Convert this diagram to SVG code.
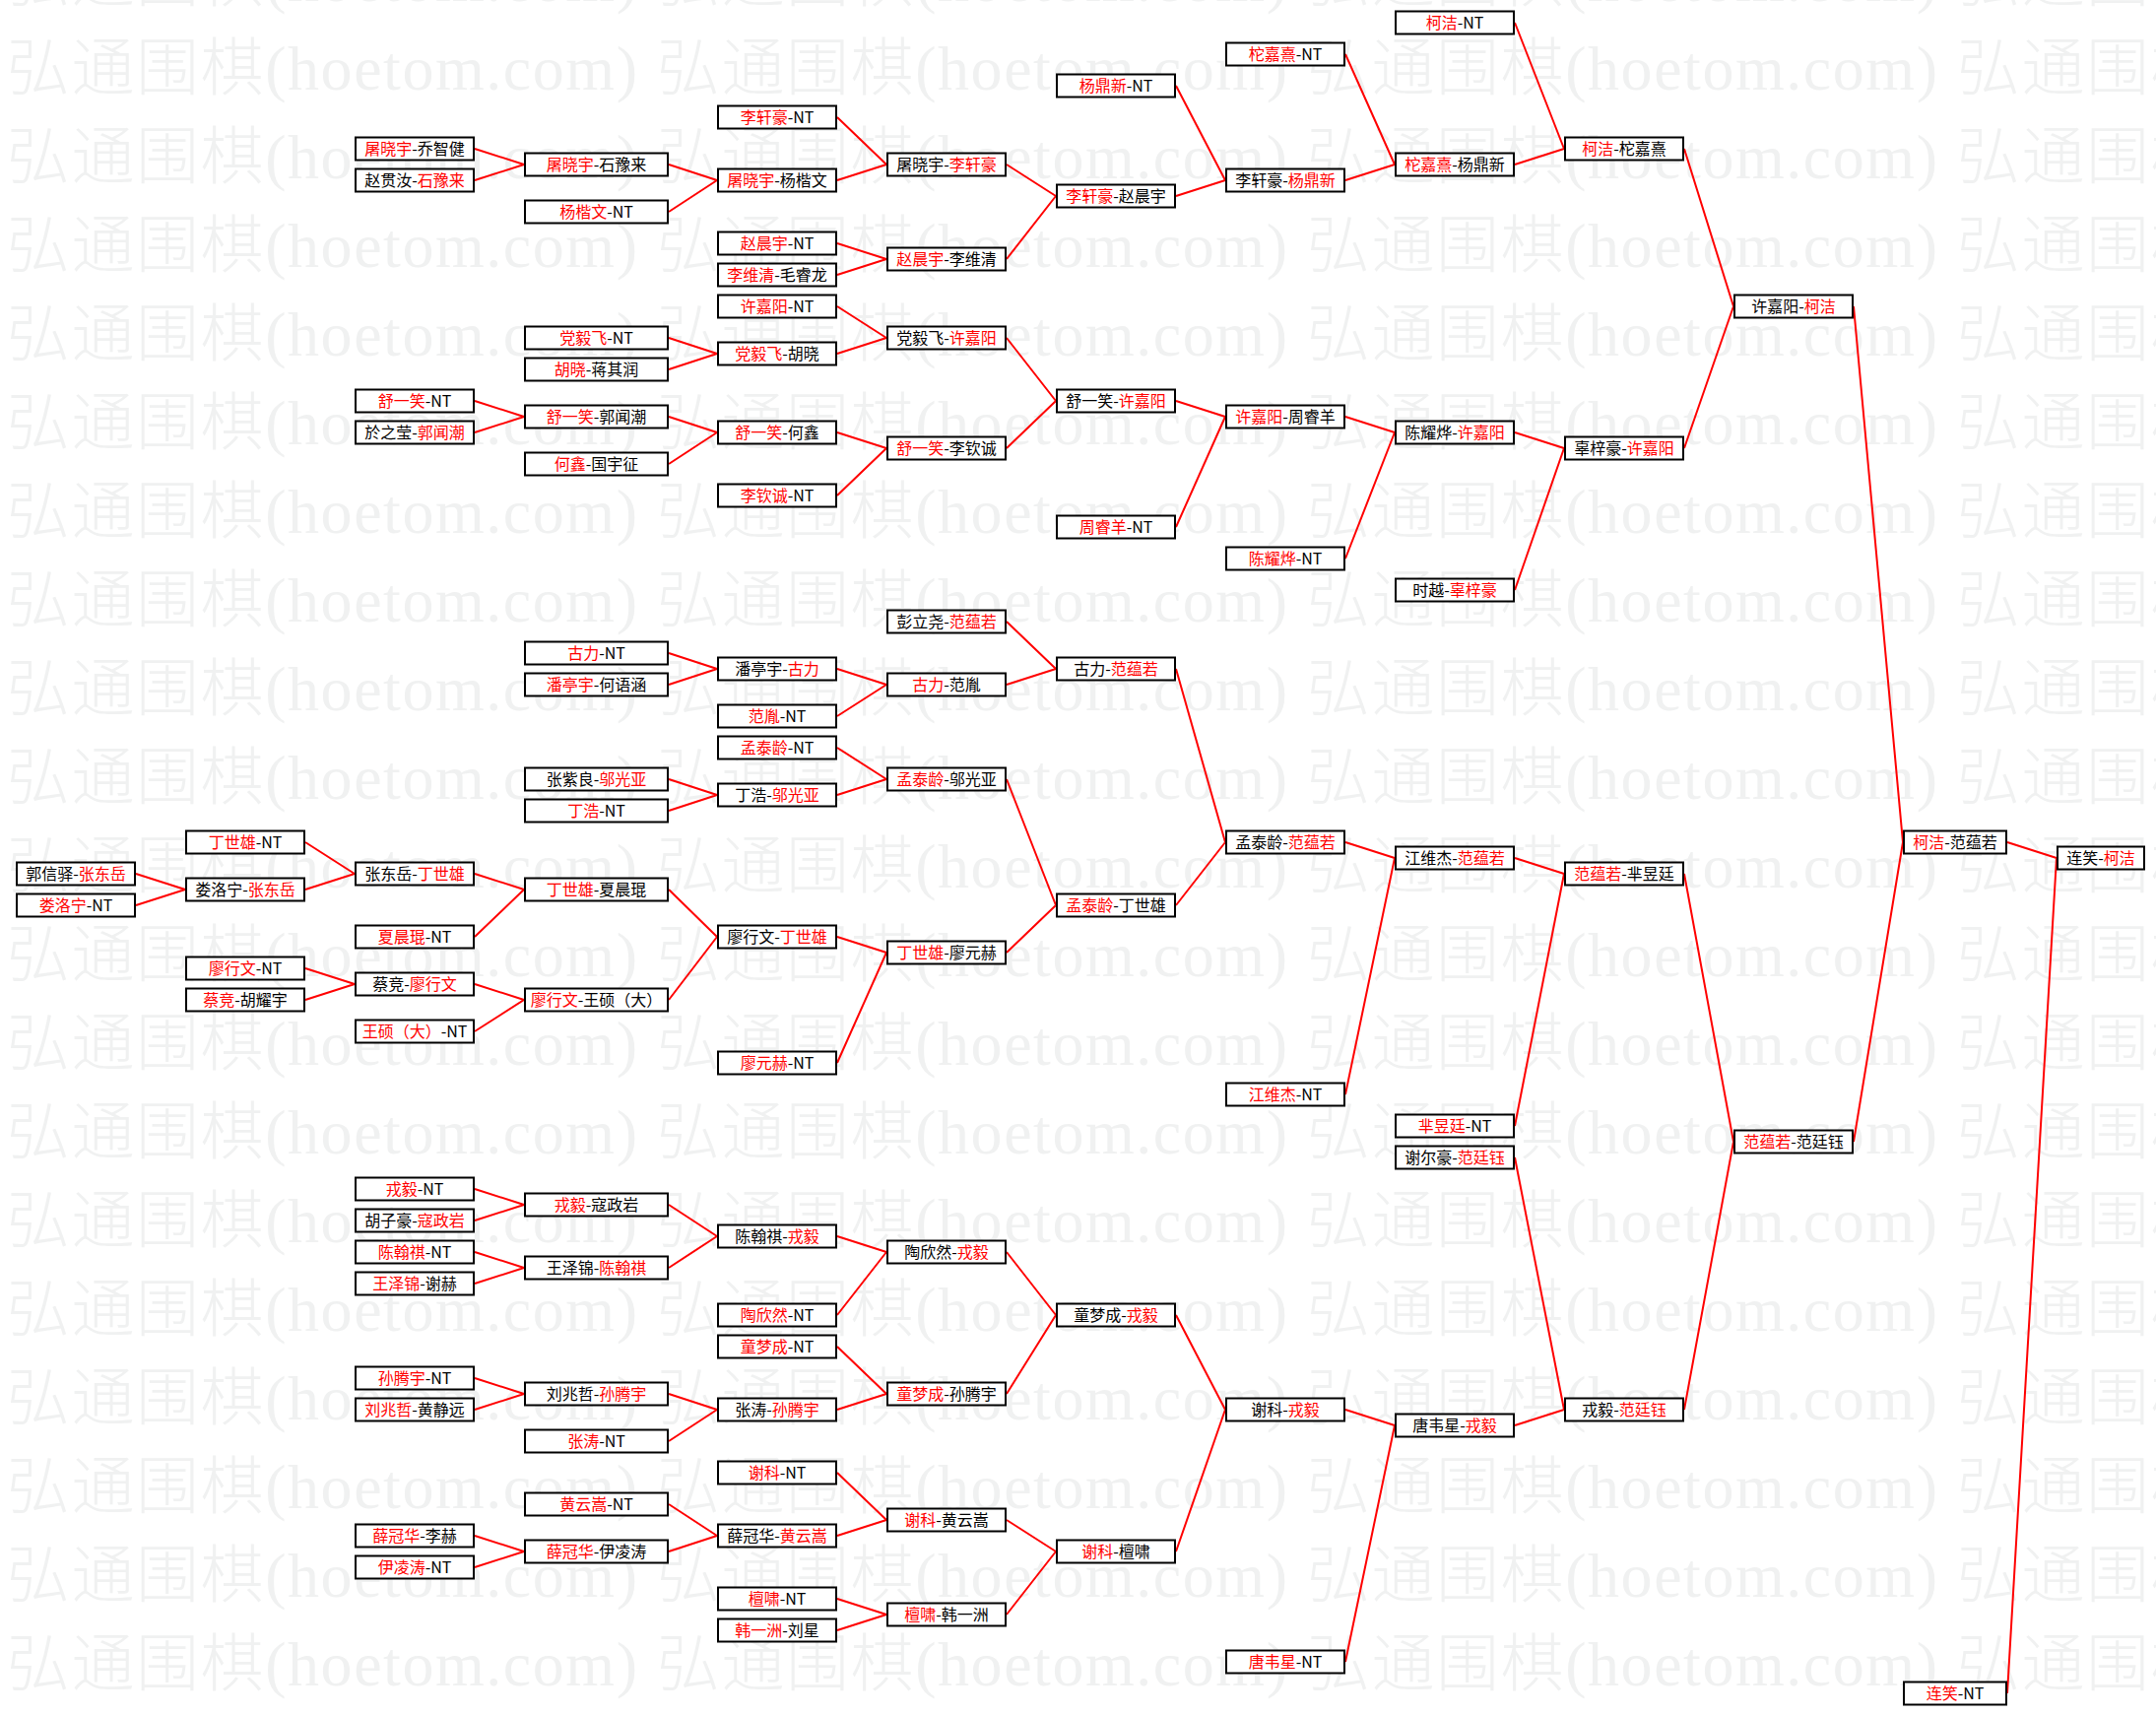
<svg xmlns="http://www.w3.org/2000/svg" width="2189" height="1741" viewBox="0 0 2189 1741">
<style>
.b rect{fill:#fff;stroke:#000;stroke-width:2}
.b text{font-family:"Noto Sans CJK SC","Noto Sans CJK JP",sans-serif;font-size:16px;text-anchor:middle;fill:#000}
.r{fill:#f00}
#connectors path{stroke:#f00;stroke-width:2;fill:none}
.wm{font-family:"Liberation Serif","Noto Sans CJK SC",serif;font-size:64px;font-weight:300;fill:#f0f1f1}
</style>
<defs>
<pattern id="wmp" patternUnits="userSpaceOnUse" x="7" y="20" width="660" height="90">
<text class="wm" x="0" y="71" textLength="640" lengthAdjust="spacing">弘通围棋(hoetom.com)</text>
</pattern>
</defs>
<rect width="2189" height="1741" fill="#fff"/>
<rect id="watermark" width="2189" height="1741" fill="url(#wmp)"/>
<g id="connectors">
<path d="M138 887L188 903M138 919L188 903"/>
<path d="M310 855L360 887M310 903L360 887"/>
<path d="M310 983L360 999M310 1015L360 999"/>
<path d="M482 151L532 167M482 183L532 167"/>
<path d="M482 407L532 423M482 439L532 423"/>
<path d="M482 887L532 903M482 951L532 903"/>
<path d="M482 999L532 1015M482 1047L532 1015"/>
<path d="M482 1207L532 1223M482 1239L532 1223"/>
<path d="M482 1271L532 1287M482 1303L532 1287"/>
<path d="M482 1399L532 1415M482 1431L532 1415"/>
<path d="M482 1559L532 1575M482 1591L532 1575"/>
<path d="M679 167L728 183M679 215L728 183"/>
<path d="M679 343L728 359M679 375L728 359"/>
<path d="M679 423L728 439M679 471L728 439"/>
<path d="M679 663L728 679M679 695L728 679"/>
<path d="M679 791L728 807M679 823L728 807"/>
<path d="M679 903L728 951M679 1015L728 951"/>
<path d="M679 1223L728 1255M679 1287L728 1255"/>
<path d="M679 1415L728 1431M679 1463L728 1431"/>
<path d="M679 1527L728 1559M679 1575L728 1559"/>
<path d="M850 119L900 167M850 183L900 167"/>
<path d="M850 247L900 263M850 279L900 263"/>
<path d="M850 311L900 343M850 359L900 343"/>
<path d="M850 439L900 455M850 503L900 455"/>
<path d="M850 679L900 695M850 727L900 695"/>
<path d="M850 759L900 791M850 807L900 791"/>
<path d="M850 951L900 967M850 1079L900 967"/>
<path d="M850 1255L900 1271M850 1335L900 1271"/>
<path d="M850 1367L900 1415M850 1431L900 1415"/>
<path d="M850 1495L900 1543M850 1559L900 1543"/>
<path d="M850 1623L900 1639M850 1655L900 1639"/>
<path d="M1022 167L1072 199M1022 263L1072 199"/>
<path d="M1022 343L1072 407M1022 455L1072 407"/>
<path d="M1022 631L1072 679M1022 695L1072 679"/>
<path d="M1022 791L1072 919M1022 967L1072 919"/>
<path d="M1022 1271L1072 1335M1022 1415L1072 1335"/>
<path d="M1022 1543L1072 1575M1022 1639L1072 1575"/>
<path d="M1194 87L1244 183M1194 199L1244 183"/>
<path d="M1194 407L1244 423M1194 535L1244 423"/>
<path d="M1194 679L1244 855M1194 919L1244 855"/>
<path d="M1194 1335L1244 1431M1194 1575L1244 1431"/>
<path d="M1366 55L1416 167M1366 183L1416 167"/>
<path d="M1366 423L1416 439M1366 567L1416 439"/>
<path d="M1366 855L1416 871M1366 1111L1416 871"/>
<path d="M1366 1431L1416 1447M1366 1687L1416 1447"/>
<path d="M1538 23L1588 151M1538 167L1588 151"/>
<path d="M1538 439L1588 455M1538 599L1588 455"/>
<path d="M1538 871L1588 887M1538 1143L1588 887"/>
<path d="M1538 1175L1588 1431M1538 1447L1588 1431"/>
<path d="M1710 151L1760 311M1710 455L1760 311"/>
<path d="M1710 887L1760 1159M1710 1431L1760 1159"/>
<path d="M1882 311L1932 855M1882 1159L1932 855"/>
<path d="M2038 855L2088 871M2038 1719L2088 871"/>
</g>
<g id="a1" class="b" transform="translate(16,887)"><rect x="1" y="-11.5" width="120" height="23"/><text x="61" y="5.5">郭信驿-<tspan class="r">张东岳</tspan></text></g>
<g id="a2" class="b" transform="translate(16,919)"><rect x="1" y="-11.5" width="120" height="23"/><text x="61" y="5.5"><tspan class="r">娄洛宁</tspan>-NT</text></g>
<g id="b1" class="b" transform="translate(188,855)"><rect x="1" y="-11.5" width="120" height="23"/><text x="61" y="5.5"><tspan class="r">丁世雄</tspan>-NT</text></g>
<g id="b2" class="b" transform="translate(188,903)"><rect x="1" y="-11.5" width="120" height="23"/><text x="61" y="5.5">娄洛宁-<tspan class="r">张东岳</tspan></text></g>
<g id="b3" class="b" transform="translate(188,983)"><rect x="1" y="-11.5" width="120" height="23"/><text x="61" y="5.5"><tspan class="r">廖行文</tspan>-NT</text></g>
<g id="b4" class="b" transform="translate(188,1015)"><rect x="1" y="-11.5" width="120" height="23"/><text x="61" y="5.5"><tspan class="r">蔡竞</tspan>-胡耀宇</text></g>
<g id="c1" class="b" transform="translate(360,151)"><rect x="1" y="-11.5" width="120" height="23"/><text x="61" y="5.5"><tspan class="r">屠晓宇</tspan>-乔智健</text></g>
<g id="c2" class="b" transform="translate(360,183)"><rect x="1" y="-11.5" width="120" height="23"/><text x="61" y="5.5">赵贯汝-<tspan class="r">石豫来</tspan></text></g>
<g id="c3" class="b" transform="translate(360,407)"><rect x="1" y="-11.5" width="120" height="23"/><text x="61" y="5.5"><tspan class="r">舒一笑</tspan>-NT</text></g>
<g id="c4" class="b" transform="translate(360,439)"><rect x="1" y="-11.5" width="120" height="23"/><text x="61" y="5.5">於之莹-<tspan class="r">郭闻潮</tspan></text></g>
<g id="c5" class="b" transform="translate(360,887)"><rect x="1" y="-11.5" width="120" height="23"/><text x="61" y="5.5">张东岳-<tspan class="r">丁世雄</tspan></text></g>
<g id="c6" class="b" transform="translate(360,951)"><rect x="1" y="-11.5" width="120" height="23"/><text x="61" y="5.5"><tspan class="r">夏晨琨</tspan>-NT</text></g>
<g id="c7" class="b" transform="translate(360,999)"><rect x="1" y="-11.5" width="120" height="23"/><text x="61" y="5.5">蔡竞-<tspan class="r">廖行文</tspan></text></g>
<g id="c8" class="b" transform="translate(360,1047)"><rect x="1" y="-11.5" width="120" height="23"/><text x="61" y="5.5"><tspan class="r">王硕（大）</tspan>-NT</text></g>
<g id="c9" class="b" transform="translate(360,1207)"><rect x="1" y="-11.5" width="120" height="23"/><text x="61" y="5.5"><tspan class="r">戎毅</tspan>-NT</text></g>
<g id="c10" class="b" transform="translate(360,1239)"><rect x="1" y="-11.5" width="120" height="23"/><text x="61" y="5.5">胡子豪-<tspan class="r">寇政岩</tspan></text></g>
<g id="c11" class="b" transform="translate(360,1271)"><rect x="1" y="-11.5" width="120" height="23"/><text x="61" y="5.5"><tspan class="r">陈翰祺</tspan>-NT</text></g>
<g id="c12" class="b" transform="translate(360,1303)"><rect x="1" y="-11.5" width="120" height="23"/><text x="61" y="5.5"><tspan class="r">王泽锦</tspan>-谢赫</text></g>
<g id="c13" class="b" transform="translate(360,1399)"><rect x="1" y="-11.5" width="120" height="23"/><text x="61" y="5.5"><tspan class="r">孙腾宇</tspan>-NT</text></g>
<g id="c14" class="b" transform="translate(360,1431)"><rect x="1" y="-11.5" width="120" height="23"/><text x="61" y="5.5"><tspan class="r">刘兆哲</tspan>-黄静远</text></g>
<g id="c15" class="b" transform="translate(360,1559)"><rect x="1" y="-11.5" width="120" height="23"/><text x="61" y="5.5"><tspan class="r">薛冠华</tspan>-李赫</text></g>
<g id="c16" class="b" transform="translate(360,1591)"><rect x="1" y="-11.5" width="120" height="23"/><text x="61" y="5.5"><tspan class="r">伊凌涛</tspan>-NT</text></g>
<g id="d1" class="b" transform="translate(532,167)"><rect x="1" y="-11.5" width="145" height="23"/><text x="73.5" y="5.5"><tspan class="r">屠晓宇</tspan>-石豫来</text></g>
<g id="d2" class="b" transform="translate(532,215)"><rect x="1" y="-11.5" width="145" height="23"/><text x="73.5" y="5.5"><tspan class="r">杨楷文</tspan>-NT</text></g>
<g id="d3" class="b" transform="translate(532,343)"><rect x="1" y="-11.5" width="145" height="23"/><text x="73.5" y="5.5"><tspan class="r">党毅飞</tspan>-NT</text></g>
<g id="d4" class="b" transform="translate(532,375)"><rect x="1" y="-11.5" width="145" height="23"/><text x="73.5" y="5.5"><tspan class="r">胡晓</tspan>-蒋其润</text></g>
<g id="d5" class="b" transform="translate(532,423)"><rect x="1" y="-11.5" width="145" height="23"/><text x="73.5" y="5.5"><tspan class="r">舒一笑</tspan>-郭闻潮</text></g>
<g id="d6" class="b" transform="translate(532,471)"><rect x="1" y="-11.5" width="145" height="23"/><text x="73.5" y="5.5"><tspan class="r">何鑫</tspan>-国宇征</text></g>
<g id="d7" class="b" transform="translate(532,663)"><rect x="1" y="-11.5" width="145" height="23"/><text x="73.5" y="5.5"><tspan class="r">古力</tspan>-NT</text></g>
<g id="d8" class="b" transform="translate(532,695)"><rect x="1" y="-11.5" width="145" height="23"/><text x="73.5" y="5.5"><tspan class="r">潘亭宇</tspan>-何语涵</text></g>
<g id="d9" class="b" transform="translate(532,791)"><rect x="1" y="-11.5" width="145" height="23"/><text x="73.5" y="5.5">张紫良-<tspan class="r">邬光亚</tspan></text></g>
<g id="d10" class="b" transform="translate(532,823)"><rect x="1" y="-11.5" width="145" height="23"/><text x="73.5" y="5.5"><tspan class="r">丁浩</tspan>-NT</text></g>
<g id="d11" class="b" transform="translate(532,903)"><rect x="1" y="-11.5" width="145" height="23"/><text x="73.5" y="5.5"><tspan class="r">丁世雄</tspan>-夏晨琨</text></g>
<g id="d12" class="b" transform="translate(532,1015)"><rect x="1" y="-11.5" width="145" height="23"/><text x="73.5" y="5.5"><tspan class="r">廖行文</tspan>-王硕（大）</text></g>
<g id="d13" class="b" transform="translate(532,1223)"><rect x="1" y="-11.5" width="145" height="23"/><text x="73.5" y="5.5"><tspan class="r">戎毅</tspan>-寇政岩</text></g>
<g id="d14" class="b" transform="translate(532,1287)"><rect x="1" y="-11.5" width="145" height="23"/><text x="73.5" y="5.5">王泽锦-<tspan class="r">陈翰祺</tspan></text></g>
<g id="d15" class="b" transform="translate(532,1415)"><rect x="1" y="-11.5" width="145" height="23"/><text x="73.5" y="5.5">刘兆哲-<tspan class="r">孙腾宇</tspan></text></g>
<g id="d16" class="b" transform="translate(532,1463)"><rect x="1" y="-11.5" width="145" height="23"/><text x="73.5" y="5.5"><tspan class="r">张涛</tspan>-NT</text></g>
<g id="d17" class="b" transform="translate(532,1527)"><rect x="1" y="-11.5" width="145" height="23"/><text x="73.5" y="5.5"><tspan class="r">黄云嵩</tspan>-NT</text></g>
<g id="d18" class="b" transform="translate(532,1575)"><rect x="1" y="-11.5" width="145" height="23"/><text x="73.5" y="5.5"><tspan class="r">薛冠华</tspan>-伊凌涛</text></g>
<g id="e1" class="b" transform="translate(728,119)"><rect x="1" y="-11.5" width="120" height="23"/><text x="61" y="5.5"><tspan class="r">李轩豪</tspan>-NT</text></g>
<g id="e2" class="b" transform="translate(728,183)"><rect x="1" y="-11.5" width="120" height="23"/><text x="61" y="5.5"><tspan class="r">屠晓宇</tspan>-杨楷文</text></g>
<g id="e3" class="b" transform="translate(728,247)"><rect x="1" y="-11.5" width="120" height="23"/><text x="61" y="5.5"><tspan class="r">赵晨宇</tspan>-NT</text></g>
<g id="e4" class="b" transform="translate(728,279)"><rect x="1" y="-11.5" width="120" height="23"/><text x="61" y="5.5"><tspan class="r">李维清</tspan>-毛睿龙</text></g>
<g id="e5" class="b" transform="translate(728,311)"><rect x="1" y="-11.5" width="120" height="23"/><text x="61" y="5.5"><tspan class="r">许嘉阳</tspan>-NT</text></g>
<g id="e6" class="b" transform="translate(728,359)"><rect x="1" y="-11.5" width="120" height="23"/><text x="61" y="5.5"><tspan class="r">党毅飞</tspan>-胡晓</text></g>
<g id="e7" class="b" transform="translate(728,439)"><rect x="1" y="-11.5" width="120" height="23"/><text x="61" y="5.5"><tspan class="r">舒一笑</tspan>-何鑫</text></g>
<g id="e8" class="b" transform="translate(728,503)"><rect x="1" y="-11.5" width="120" height="23"/><text x="61" y="5.5"><tspan class="r">李钦诚</tspan>-NT</text></g>
<g id="e9" class="b" transform="translate(728,679)"><rect x="1" y="-11.5" width="120" height="23"/><text x="61" y="5.5">潘亭宇-<tspan class="r">古力</tspan></text></g>
<g id="e10" class="b" transform="translate(728,727)"><rect x="1" y="-11.5" width="120" height="23"/><text x="61" y="5.5"><tspan class="r">范胤</tspan>-NT</text></g>
<g id="e11" class="b" transform="translate(728,759)"><rect x="1" y="-11.5" width="120" height="23"/><text x="61" y="5.5"><tspan class="r">孟泰龄</tspan>-NT</text></g>
<g id="e12" class="b" transform="translate(728,807)"><rect x="1" y="-11.5" width="120" height="23"/><text x="61" y="5.5">丁浩-<tspan class="r">邬光亚</tspan></text></g>
<g id="e13" class="b" transform="translate(728,951)"><rect x="1" y="-11.5" width="120" height="23"/><text x="61" y="5.5">廖行文-<tspan class="r">丁世雄</tspan></text></g>
<g id="e14" class="b" transform="translate(728,1079)"><rect x="1" y="-11.5" width="120" height="23"/><text x="61" y="5.5"><tspan class="r">廖元赫</tspan>-NT</text></g>
<g id="e15" class="b" transform="translate(728,1255)"><rect x="1" y="-11.5" width="120" height="23"/><text x="61" y="5.5">陈翰祺-<tspan class="r">戎毅</tspan></text></g>
<g id="e16" class="b" transform="translate(728,1335)"><rect x="1" y="-11.5" width="120" height="23"/><text x="61" y="5.5"><tspan class="r">陶欣然</tspan>-NT</text></g>
<g id="e17" class="b" transform="translate(728,1367)"><rect x="1" y="-11.5" width="120" height="23"/><text x="61" y="5.5"><tspan class="r">童梦成</tspan>-NT</text></g>
<g id="e18" class="b" transform="translate(728,1431)"><rect x="1" y="-11.5" width="120" height="23"/><text x="61" y="5.5">张涛-<tspan class="r">孙腾宇</tspan></text></g>
<g id="e19" class="b" transform="translate(728,1495)"><rect x="1" y="-11.5" width="120" height="23"/><text x="61" y="5.5"><tspan class="r">谢科</tspan>-NT</text></g>
<g id="e20" class="b" transform="translate(728,1559)"><rect x="1" y="-11.5" width="120" height="23"/><text x="61" y="5.5">薛冠华-<tspan class="r">黄云嵩</tspan></text></g>
<g id="e21" class="b" transform="translate(728,1623)"><rect x="1" y="-11.5" width="120" height="23"/><text x="61" y="5.5"><tspan class="r">檀啸</tspan>-NT</text></g>
<g id="e22" class="b" transform="translate(728,1655)"><rect x="1" y="-11.5" width="120" height="23"/><text x="61" y="5.5"><tspan class="r">韩一洲</tspan>-刘星</text></g>
<g id="f1" class="b" transform="translate(900,167)"><rect x="1" y="-11.5" width="120" height="23"/><text x="61" y="5.5">屠晓宇-<tspan class="r">李轩豪</tspan></text></g>
<g id="f2" class="b" transform="translate(900,263)"><rect x="1" y="-11.5" width="120" height="23"/><text x="61" y="5.5"><tspan class="r">赵晨宇</tspan>-李维清</text></g>
<g id="f3" class="b" transform="translate(900,343)"><rect x="1" y="-11.5" width="120" height="23"/><text x="61" y="5.5">党毅飞-<tspan class="r">许嘉阳</tspan></text></g>
<g id="f4" class="b" transform="translate(900,455)"><rect x="1" y="-11.5" width="120" height="23"/><text x="61" y="5.5"><tspan class="r">舒一笑</tspan>-李钦诚</text></g>
<g id="f5" class="b" transform="translate(900,631)"><rect x="1" y="-11.5" width="120" height="23"/><text x="61" y="5.5">彭立尧-<tspan class="r">范蕴若</tspan></text></g>
<g id="f6" class="b" transform="translate(900,695)"><rect x="1" y="-11.5" width="120" height="23"/><text x="61" y="5.5"><tspan class="r">古力</tspan>-范胤</text></g>
<g id="f7" class="b" transform="translate(900,791)"><rect x="1" y="-11.5" width="120" height="23"/><text x="61" y="5.5"><tspan class="r">孟泰龄</tspan>-邬光亚</text></g>
<g id="f8" class="b" transform="translate(900,967)"><rect x="1" y="-11.5" width="120" height="23"/><text x="61" y="5.5"><tspan class="r">丁世雄</tspan>-廖元赫</text></g>
<g id="f9" class="b" transform="translate(900,1271)"><rect x="1" y="-11.5" width="120" height="23"/><text x="61" y="5.5">陶欣然-<tspan class="r">戎毅</tspan></text></g>
<g id="f10" class="b" transform="translate(900,1415)"><rect x="1" y="-11.5" width="120" height="23"/><text x="61" y="5.5"><tspan class="r">童梦成</tspan>-孙腾宇</text></g>
<g id="f11" class="b" transform="translate(900,1543)"><rect x="1" y="-11.5" width="120" height="23"/><text x="61" y="5.5"><tspan class="r">谢科</tspan>-黄云嵩</text></g>
<g id="f12" class="b" transform="translate(900,1639)"><rect x="1" y="-11.5" width="120" height="23"/><text x="61" y="5.5"><tspan class="r">檀啸</tspan>-韩一洲</text></g>
<g id="g1" class="b" transform="translate(1072,87)"><rect x="1" y="-11.5" width="120" height="23"/><text x="61" y="5.5"><tspan class="r">杨鼎新</tspan>-NT</text></g>
<g id="g2" class="b" transform="translate(1072,199)"><rect x="1" y="-11.5" width="120" height="23"/><text x="61" y="5.5"><tspan class="r">李轩豪</tspan>-赵晨宇</text></g>
<g id="g3" class="b" transform="translate(1072,407)"><rect x="1" y="-11.5" width="120" height="23"/><text x="61" y="5.5">舒一笑-<tspan class="r">许嘉阳</tspan></text></g>
<g id="g4" class="b" transform="translate(1072,535)"><rect x="1" y="-11.5" width="120" height="23"/><text x="61" y="5.5"><tspan class="r">周睿羊</tspan>-NT</text></g>
<g id="g5" class="b" transform="translate(1072,679)"><rect x="1" y="-11.5" width="120" height="23"/><text x="61" y="5.5">古力-<tspan class="r">范蕴若</tspan></text></g>
<g id="g6" class="b" transform="translate(1072,919)"><rect x="1" y="-11.5" width="120" height="23"/><text x="61" y="5.5"><tspan class="r">孟泰龄</tspan>-丁世雄</text></g>
<g id="g7" class="b" transform="translate(1072,1335)"><rect x="1" y="-11.5" width="120" height="23"/><text x="61" y="5.5">童梦成-<tspan class="r">戎毅</tspan></text></g>
<g id="g8" class="b" transform="translate(1072,1575)"><rect x="1" y="-11.5" width="120" height="23"/><text x="61" y="5.5"><tspan class="r">谢科</tspan>-檀啸</text></g>
<g id="h1" class="b" transform="translate(1244,55)"><rect x="1" y="-11.5" width="120" height="23"/><text x="61" y="5.5"><tspan class="r">柁嘉熹</tspan>-NT</text></g>
<g id="h2" class="b" transform="translate(1244,183)"><rect x="1" y="-11.5" width="120" height="23"/><text x="61" y="5.5">李轩豪-<tspan class="r">杨鼎新</tspan></text></g>
<g id="h3" class="b" transform="translate(1244,423)"><rect x="1" y="-11.5" width="120" height="23"/><text x="61" y="5.5"><tspan class="r">许嘉阳</tspan>-周睿羊</text></g>
<g id="h4" class="b" transform="translate(1244,567)"><rect x="1" y="-11.5" width="120" height="23"/><text x="61" y="5.5"><tspan class="r">陈耀烨</tspan>-NT</text></g>
<g id="h5" class="b" transform="translate(1244,855)"><rect x="1" y="-11.5" width="120" height="23"/><text x="61" y="5.5">孟泰龄-<tspan class="r">范蕴若</tspan></text></g>
<g id="h6" class="b" transform="translate(1244,1111)"><rect x="1" y="-11.5" width="120" height="23"/><text x="61" y="5.5"><tspan class="r">江维杰</tspan>-NT</text></g>
<g id="h7" class="b" transform="translate(1244,1431)"><rect x="1" y="-11.5" width="120" height="23"/><text x="61" y="5.5">谢科-<tspan class="r">戎毅</tspan></text></g>
<g id="h8" class="b" transform="translate(1244,1687)"><rect x="1" y="-11.5" width="120" height="23"/><text x="61" y="5.5"><tspan class="r">唐韦星</tspan>-NT</text></g>
<g id="i1" class="b" transform="translate(1416,23)"><rect x="1" y="-11.5" width="120" height="23"/><text x="61" y="5.5"><tspan class="r">柯洁</tspan>-NT</text></g>
<g id="i2" class="b" transform="translate(1416,167)"><rect x="1" y="-11.5" width="120" height="23"/><text x="61" y="5.5"><tspan class="r">柁嘉熹</tspan>-杨鼎新</text></g>
<g id="i3" class="b" transform="translate(1416,439)"><rect x="1" y="-11.5" width="120" height="23"/><text x="61" y="5.5">陈耀烨-<tspan class="r">许嘉阳</tspan></text></g>
<g id="i4" class="b" transform="translate(1416,599)"><rect x="1" y="-11.5" width="120" height="23"/><text x="61" y="5.5">时越-<tspan class="r">辜梓豪</tspan></text></g>
<g id="i5" class="b" transform="translate(1416,871)"><rect x="1" y="-11.5" width="120" height="23"/><text x="61" y="5.5">江维杰-<tspan class="r">范蕴若</tspan></text></g>
<g id="i6" class="b" transform="translate(1416,1143)"><rect x="1" y="-11.5" width="120" height="23"/><text x="61" y="5.5"><tspan class="r">芈昱廷</tspan>-NT</text></g>
<g id="i7" class="b" transform="translate(1416,1175)"><rect x="1" y="-11.5" width="120" height="23"/><text x="61" y="5.5">谢尔豪-<tspan class="r">范廷钰</tspan></text></g>
<g id="i8" class="b" transform="translate(1416,1447)"><rect x="1" y="-11.5" width="120" height="23"/><text x="61" y="5.5">唐韦星-<tspan class="r">戎毅</tspan></text></g>
<g id="j1" class="b" transform="translate(1588,151)"><rect x="1" y="-11.5" width="120" height="23"/><text x="61" y="5.5"><tspan class="r">柯洁</tspan>-柁嘉熹</text></g>
<g id="j2" class="b" transform="translate(1588,455)"><rect x="1" y="-11.5" width="120" height="23"/><text x="61" y="5.5">辜梓豪-<tspan class="r">许嘉阳</tspan></text></g>
<g id="j3" class="b" transform="translate(1588,887)"><rect x="1" y="-11.5" width="120" height="23"/><text x="61" y="5.5"><tspan class="r">范蕴若</tspan>-芈昱廷</text></g>
<g id="j4" class="b" transform="translate(1588,1431)"><rect x="1" y="-11.5" width="120" height="23"/><text x="61" y="5.5">戎毅-<tspan class="r">范廷钰</tspan></text></g>
<g id="k1" class="b" transform="translate(1760,311)"><rect x="1" y="-11.5" width="120" height="23"/><text x="61" y="5.5">许嘉阳-<tspan class="r">柯洁</tspan></text></g>
<g id="k2" class="b" transform="translate(1760,1159)"><rect x="1" y="-11.5" width="120" height="23"/><text x="61" y="5.5"><tspan class="r">范蕴若</tspan>-范廷钰</text></g>
<g id="l1" class="b" transform="translate(1932,855)"><rect x="1" y="-11.5" width="104" height="23"/><text x="53" y="5.5"><tspan class="r">柯洁</tspan>-范蕴若</text></g>
<g id="l2" class="b" transform="translate(1932,1719)"><rect x="1" y="-11.5" width="104" height="23"/><text x="53" y="5.5"><tspan class="r">连笑</tspan>-NT</text></g>
<g id="m1" class="b" transform="translate(2088,871)"><rect x="1" y="-11.5" width="88" height="23"/><text x="45" y="5.5">连笑-<tspan class="r">柯洁</tspan></text></g>
</svg>
